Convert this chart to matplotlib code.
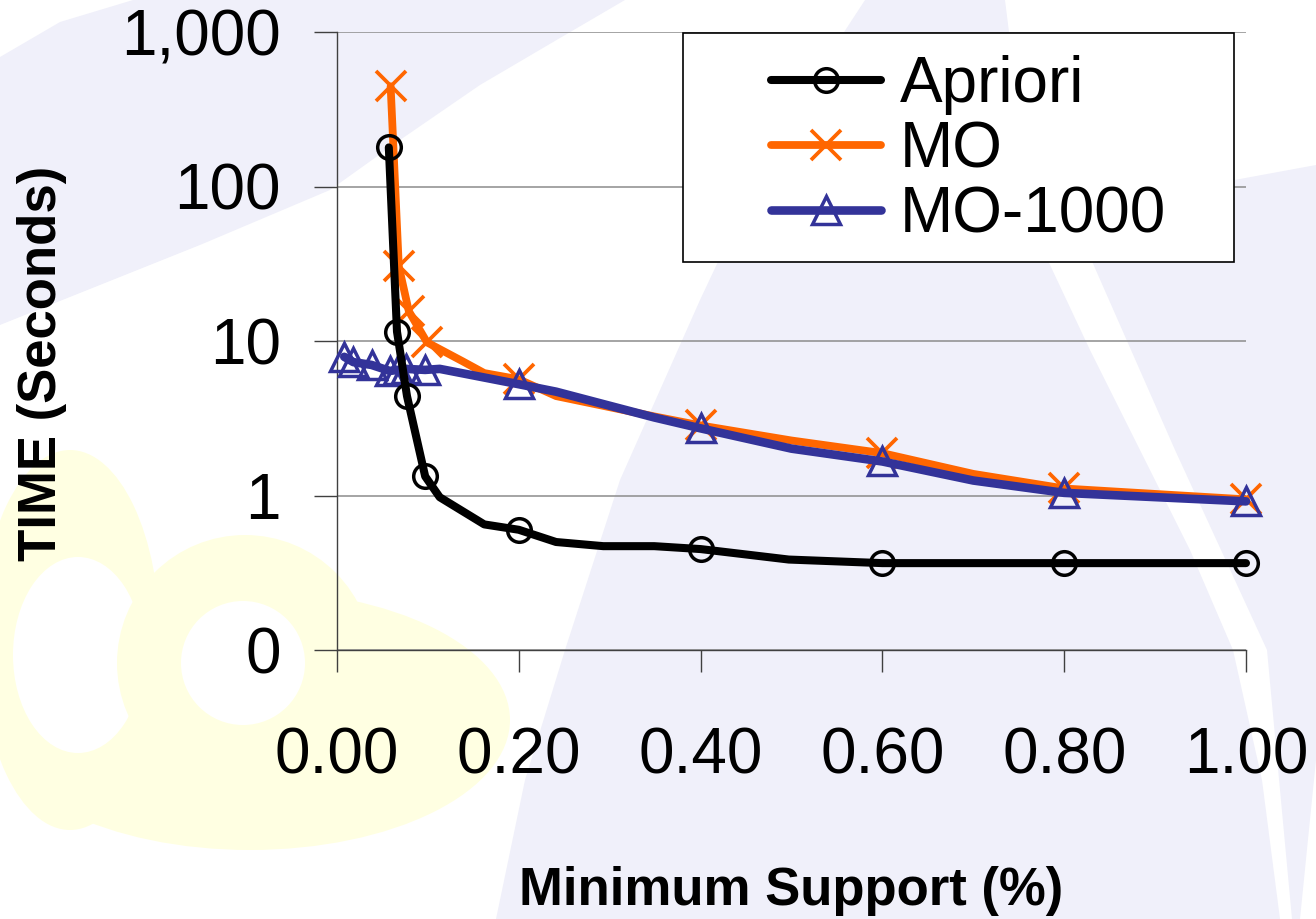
import matplotlib
matplotlib.use('Agg')
import matplotlib.pyplot as plt
from matplotlib.patches import Polygon, Ellipse, Circle, Rectangle
from matplotlib.lines import Line2D
from matplotlib.ticker import NullLocator

plt.rcParams['font.family'] = ['Liberation Sans', 'DejaVu Sans']

# ---- data ----
series_names = ['Apriori', 'MO', 'MO-1000']

apriori_support = [0.057, 0.066, 0.077, 0.097, 0.113, 0.162, 0.20, 0.241, 0.293, 0.349,
                   0.40, 0.497, 0.60, 0.80, 1.00]
apriori_time = [179, 11.5, 4.4, 1.33, 0.975, 0.65, 0.60, 0.50, 0.47, 0.47,
                0.45, 0.385, 0.365, 0.365, 0.365]
apriori_marked = [0, 1, 2, 3, 6, 10, 12, 13, 14]

mo_support = [0.059, 0.068, 0.079, 0.099, 0.138, 0.162, 0.20, 0.241, 0.349,
              0.40, 0.50, 0.60, 0.70, 0.80, 1.00]
mo_time = [445, 30.4, 15.6, 9.8, 7.4, 6.2, 5.65, 4.4, 3.25,
           2.84, 2.27, 1.88, 1.38, 1.11, 0.944]
mo_marked = [0, 1, 2, 3, 6, 9, 11, 13, 14]

mo1000_support = [0.008, 0.018, 0.038, 0.058, 0.067, 0.076, 0.097, 0.113, 0.20, 0.241,
                  0.349, 0.40, 0.50, 0.60, 0.70, 0.80, 1.00]
mo1000_time = [7.9, 7.3, 7.0, 6.4, 6.5, 6.6, 6.5, 6.6, 5.25, 4.7,
               3.2, 2.72, 2.01, 1.66, 1.25, 1.04, 0.916]
mo1000_marked = [0, 1, 2, 3, 4, 5, 6, 8, 11, 13, 15, 16]

y_ticks = [0.1, 1, 10, 100, 1000]
y_ticklabels = ['0', '1', '10', '100', '1,000']
x_ticks = [0.0, 0.2, 0.4, 0.6, 0.8, 1.0]
x_ticklabels = ['0.00', '0.20', '0.40', '0.60', '0.80', '1.00']

# ---- figure ----
W, H = 1316, 919
fig = plt.figure(figsize=(W / 100, H / 100), dpi=100)
fig.patch.set_facecolor('white')

# faint slide watermark behind the chart (pixel coords, y down)
bg = fig.add_axes([0, 0, 1, 1], zorder=-1)
bg.set_xlim(0, W)
bg.set_ylim(H, 0)
bg.axis('off')
lav = '#F0F0FA'
yel = '#FFFFE2'
bg.add_patch(Polygon([(0, 57), (60, 22), (133, 0), (625, 0), (560, 38), (480, 85), (400, 140),
                      (330, 190), (200, 245), (20, 317), (0, 325)],
                     closed=True, fc=lav, ec='none'))
bg.add_patch(Polygon([(865, 0), (1005, 0), (1020, 120), (1043, 250), (1090, 350), (1140, 450),
                      (1190, 550), (1233, 650), (1262, 780), (1280, 919), (496, 919),
                      (525, 780), (565, 650), (620, 480), (700, 300), (780, 130)],
                     closed=True, fc=lav, ec='none'))
bg.add_patch(Polygon([(1087, 250), (1180, 190), (1316, 165), (1316, 760), (1300, 919),
                      (1292, 919), (1267, 650), (1175, 450)], closed=True, fc=lav, ec='none'))
bg.add_patch(Ellipse((70, 640), 180, 380, fc=yel, ec='none'))
bg.add_patch(Ellipse((250, 720), 520, 260, fc=yel, ec='none'))
bg.add_patch(Ellipse((78, 655), 130, 196, fc='white', ec='none'))
bg.add_patch(Circle((245, 663), 128, fc=yel, ec='none'))
bg.add_patch(Circle((243, 663), 62, fc='white', ec='none'))

# main chart
ax = fig.add_axes([337 / W, 1 - 650 / H, (1246 - 337) / W, (650 - 32) / H])
ax.set_facecolor('none')
ax.set_yscale('log')
ax.set_xlim(0, 1.0)
ax.set_ylim(0.1, 1000)

styles = [
    dict(color='#FF6600', lw=5.6, marker='x', ms=21, mew=2.7, zorder=3),
    dict(color='#333399', lw=6.2, marker='^', ms=20, mew=2.5, mfc='none', zorder=4),
    dict(color='black', lw=5.8, marker='o', ms=17, mew=2.5, mfc='none', zorder=5),
]

ax.plot(mo_support, mo_time, markevery=mo_marked, clip_on=False,
        solid_capstyle='round', solid_joinstyle='round', **styles[0])
ax.plot(mo1000_support, mo1000_time, markevery=mo1000_marked, clip_on=False,
        solid_capstyle='round', solid_joinstyle='round', **styles[1])
ax.plot(apriori_support, apriori_time, markevery=apriori_marked, clip_on=False,
        solid_capstyle='round', solid_joinstyle='round', **styles[2])

ax.set_yticks(y_ticks)
ax.set_yticklabels(y_ticklabels)
ax.yaxis.set_minor_locator(NullLocator())
ax.set_xticks(x_ticks)
ax.set_xticklabels(x_ticklabels)

ax.tick_params(axis='y', length=16.5, width=1, color='#404040', pad=24, labelsize=46)
ax.tick_params(axis='x', length=16, width=1, color='#404040', pad=39, labelsize=46)
ax.grid(axis='y', color='#8C8C8C', lw=1.1, zorder=0)
ax.set_axisbelow(True)
for side in ['top', 'right']:
    ax.spines[side].set_visible(False)
for side in ['left', 'bottom']:
    ax.spines[side].set_color('#404040')
    ax.spines[side].set_linewidth(1)

fig.text(791.5 / W, 14 / H, 'Minimum Support (%)', ha='center', va='baseline',
         fontsize=38, fontweight='bold')
fig.text(42.5 / W, 1 - 363.5 / H, 'TIME (Seconds)', ha='center', va='center',
         rotation=90, fontsize=38, fontweight='bold')

# legend with a hand-placed frame
fig.add_artist(Rectangle((683 / W, 1 - 262 / H), (1234 - 683) / W, (262 - 33) / H,
                         transform=fig.transFigure, fc='white', ec='black', lw=1.2,
                         zorder=4))
handles = [
    Line2D([], [], solid_capstyle='round', **styles[2]),
    Line2D([], [], solid_capstyle='round', **styles[0]),
    Line2D([], [], solid_capstyle='round', **styles[1]),
]
fig.legend(handles, series_names, loc='upper left', bbox_to_anchor=(771 / W, 1 - 55 / H),
           frameon=False, borderpad=0, borderaxespad=0, handlelength=1.72,
           handletextpad=0.3, labelspacing=0.08, fontsize=46)

fig.savefig('out.png', dpi=100, facecolor='white')
